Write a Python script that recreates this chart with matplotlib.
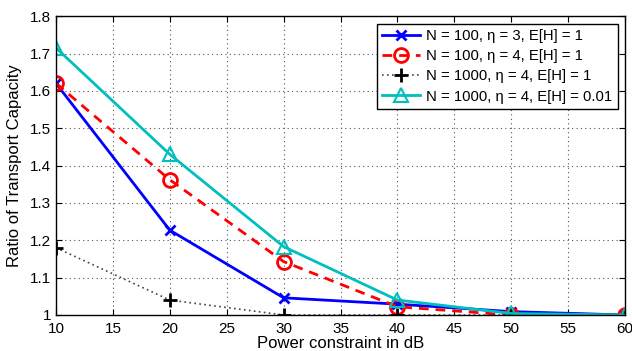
import matplotlib.pyplot as plt

plt.rcParams["font.family"] = ["Liberation Sans", "DejaVu Sans"]

power_db = [10, 20, 30, 40, 50, 60]
ratio_n100_eta3 = [1.62, 1.227, 1.046, 1.029, 1.009, 1.0]
ratio_n100_eta4 = [1.62, 1.362, 1.143, 1.022, 1.0, 1.0]
ratio_n1000_eta4 = [1.18, 1.04, 1.0, 1.0, 1.0, 1.0]
ratio_n1000_eta4_small = [1.715, 1.43, 1.183, 1.04, 1.004, 1.0]

labels = [
    "N = 100, η = 3, E[H] = 1",
    "N = 100, η = 4, E[H] = 1",
    "N = 1000, η = 4, E[H] = 1",
    "N = 1000, η = 4, E[H] = 0.01",
]

fig = plt.figure(figsize=(6.32, 3.51), dpi=100)
ax = fig.add_axes([0.0886, 0.1026, 0.9004, 0.8514])

ax.plot(power_db, ratio_n100_eta3, color="#0000ff", lw=2, marker="x",
        ms=7, mew=2, label=labels[0])
ax.plot(power_db, ratio_n100_eta4, color="#ff0000", lw=2, ls=(0, (3.5, 2.5)),
        marker="o", ms=10, mew=2, mfc="none", label=labels[1])
ax.plot(power_db, ratio_n1000_eta4, color="#444444", lw=1.2, ls=(0, (1, 2)),
        marker="+", ms=10, mew=2, mec="black", label=labels[2])
ax.plot(power_db, ratio_n1000_eta4_small, color="#00bfbf", lw=2, marker="^",
        ms=10, mew=1.5, mfc="none", label=labels[3])

ax.set_xlim(10, 60)
ax.set_ylim(1.0, 1.8)
ax.set_xticks(range(10, 61, 5))
ax.set_yticks([1.0, 1.1, 1.2, 1.3, 1.4, 1.5, 1.6, 1.7, 1.8])
ax.set_yticklabels(["1", "1.1", "1.2", "1.3", "1.4", "1.5", "1.6", "1.7", "1.8"])
ax.tick_params(direction="in", top=True, right=True, labelsize=11, length=4)
ax.tick_params(axis="x", pad=5)
ax.grid(True, ls=(0, (1, 3)), color="#555555", lw=0.8)
for s in ax.spines.values():
    s.set_linewidth(1.0)

ax.set_xlabel("Power constraint in dB", fontsize=12, labelpad=0)
ax.set_ylabel("Ratio of Transport Capacity", fontsize=12, labelpad=6)

leg = ax.legend(loc="upper right", fontsize=10.7, fancybox=False, framealpha=1,
                edgecolor="black", borderpad=0.35, labelspacing=0.42,
                handlelength=2.6, handletextpad=0.4, borderaxespad=0.5)
leg.get_frame().set_linewidth(1.0)

fig.savefig("out.png", dpi=100)
